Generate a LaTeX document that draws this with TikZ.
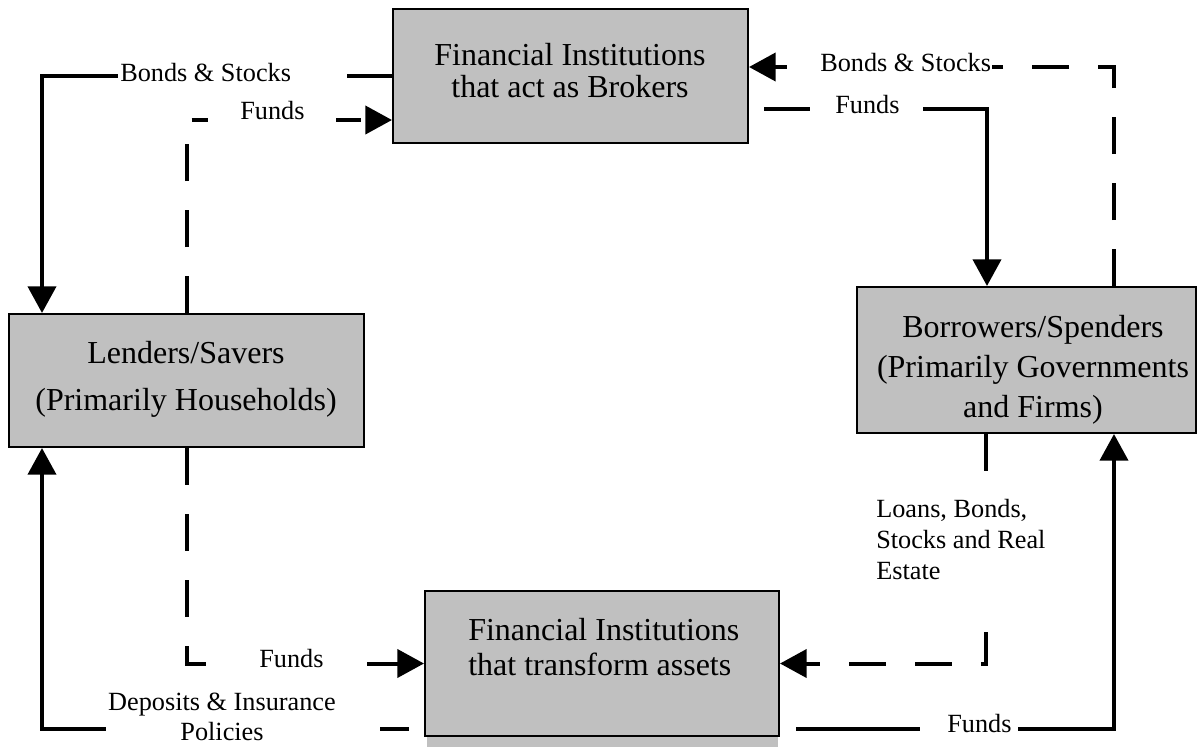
\documentclass[tikz,border=0pt]{standalone}
\usepackage{fontspec}
\setmainfont{Liberation Serif}
\usetikzlibrary{arrows.meta,calc}
\definecolor{boxgray}{HTML}{C0C0C0}
\tikzset{
  box/.style={draw=black, line width=1.5pt, fill=boxgray, inner sep=0pt},
  boxtxt/.style={inner sep=0pt, anchor=base},
  lbl/.style={font=\fontsize{19.7}{23}\selectfont, inner sep=0pt, anchor=base west},
  flow/.style={line width=3pt, -{Triangle[length=20pt,width=21pt]}},
  dflow/.style={flow, dash pattern=on 27.75pt off 21.75pt},
  mask/.style={fill=white}
}
\begin{document}
\begin{tikzpicture}[x=0.75pt,y=-0.75pt]
\useasboundingbox (0,0) rectangle (1204,747);
% shadow under lower box
\fill[boxgray] (427,737) rectangle (778,747);
% boxes
\node[box, minimum width={355*0.75pt}, minimum height={134*0.75pt}] (brok) at (570.5,76) {};
\node[box, minimum width={355*0.75pt}, minimum height={133*0.75pt}] (lend) at (186.5,380.5) {};
\node[box, minimum width={339*0.75pt}, minimum height={146*0.75pt}] (borr) at (1026.5,360) {};
\node[box, minimum width={354*0.75pt}, minimum height={145*0.75pt}] (trans) at (602,663.5) {};
% box texts (anchored at the baseline of the last line)
\node[boxtxt, align=center, font=\fontsize{24}{24}\selectfont] (brokt) at (570,97) {Financial Institutions\\that act as Brokers};
\node[boxtxt, align=center, font=\fontsize{24}{35.25}\selectfont] (lendt) at (186,410) {Lenders/Savers\\(Primarily Households)};
\node[boxtxt, align=center, font=\fontsize{24}{30}\selectfont] (borrt) at (1033,417) {Borrowers/Spenders\\(Primarily Governments\\and Firms)};
\node[boxtxt, anchor=base west, align=left, font=\fontsize{24}{26.25}\selectfont] (transt) at (468,675) {Financial Institutions\\that transform assets};
% connectors
\draw[flow] (brok.west) -| ($(lend.north west)+(34,0)$);
\draw[dflow] (lend.north) |- ($(brok.south west)+(0,-24)$);
\draw[dflow] ($(borr.north west)+(258,0)$) |- ($(brok.north east)+(0,59)$);
\draw[flow, shorten <=11.25pt] ($(brok.north east)+(0,101)$) -| ($(borr.north west)+(131,0)$);
\draw[dflow] (lend.south) |- (trans.west);
\draw[flow, shorten <=11.25pt] ($(trans.south west)+(0,-8)$) -| ($(lend.south west)+(34,0)$);
\draw[dflow] ($(borr.south west)+(130,0)$) |- (trans.east);
\draw[flow, shorten <=12pt] ($(trans.south east)+(0,-8)$) -| ($(borr.south west)+(258,0)$);
% label backgrounds
\fill[mask] (118,66) rectangle (347,86);
\fill[mask] (208,110) rectangle (336,128);
\fill[mask] (787,60) rectangle (992,76);
\fill[mask] (810,102) rectangle (923,118);
\fill[mask] (223,655) rectangle (347,671);
\fill[mask] (106,720) rectangle (380,736);
\fill[mask] (865,493) rectangle (1050,605);
\fill[mask] (920,720) rectangle (1018,736);
% labels
\node[lbl] (l1) at (120,81) {Bonds \& Stocks};
\node[lbl] (l2) at (240,119) {Funds};
\node[lbl] (l3) at (820,71) {Bonds \& Stocks};
\node[lbl] (l4) at (835,113) {Funds};
\node[lbl] (l5) at (259,667) {Funds};
\node[lbl, anchor=base, align=center, font=\fontsize{19.7}{22.5}\selectfont] (l6) at (222,740) {Deposits \& Insurance\\Policies};
\node[lbl, align=left, font=\fontsize{19.7}{23}\selectfont] (l7) at (876,579) {Loans, Bonds,\\Stocks and Real\\Estate};
\node[lbl] (l8) at (947,732) {Funds};
\end{tikzpicture}
\end{document}
